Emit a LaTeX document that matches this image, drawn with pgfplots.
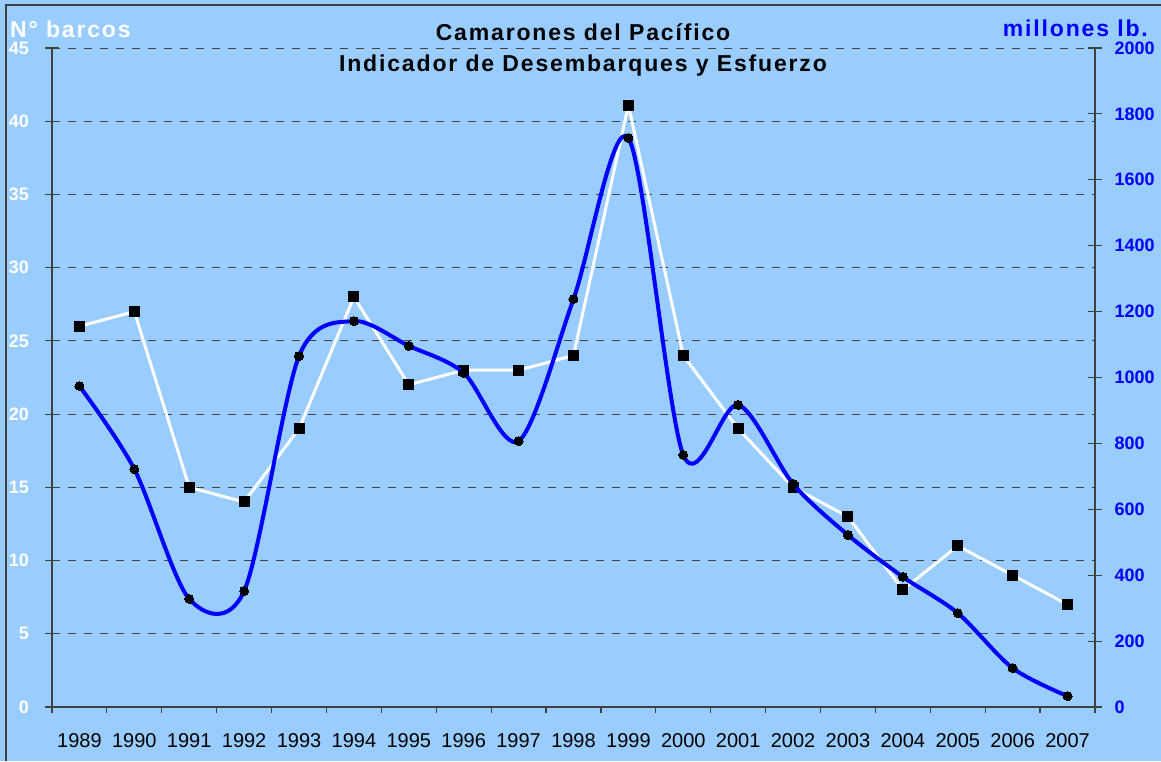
\documentclass[border=0pt]{standalone}
\usepackage{fontspec}
\setmainfont{Liberation Sans}
\newfontfamily\spfont[LetterSpace=8]{Liberation Sans}
\usepackage{pgfplots}
\pgfplotsset{compat=1.18}
\definecolor{bg}{HTML}{99CCFF}
\definecolor{axgray}{HTML}{404040}
\definecolor{pblue}{HTML}{0000FF}
\pgfplotsset{
  base/.style={at={(52pt,54pt)}, anchor=south west, scale only axis,
    width=1043pt, height=659pt, xmin=-0.5, xmax=18.5,
    axis line style={axgray, line width=1.2pt},
    tick style={axgray, line width=1.2pt},
    /pgf/number format/assume math mode=true,
    /pgf/number format/1000 sep={}},
}
\begin{document}
\begin{tikzpicture}
\fill[bg] (0pt,0pt) rectangle (1161pt,761pt);
\useasboundingbox (0pt,0pt) rectangle (1161pt,761pt);
\draw[axgray, line width=2pt] (6pt,0pt) -- (6pt,756pt) -- (1161pt,756pt);
% bottom category axis
\begin{axis}[base, ymin=0, ymax=45,
  axis y line=none, axis x line*=bottom,
  xtick={-0.5,0.5,...,18.5},
  xticklabels={1989,1990,1991,1992,1993,1994,1995,1996,1997,1998,1999,2000,2001,2002,2003,2004,2005,2006,2007,{}},
  xticklabel style={xshift=27.45pt, yshift=-17pt, font=\fontsize{20}{20}\selectfont, text=black},
  tick align=outside, major tick length=6pt,
]
\end{axis}
% left axis: N barcos
\begin{axis}[base, ymin=0, ymax=45,
  axis x line=none, axis y line*=left,
  ytick={0,5,...,45},
  yticklabel style={xshift=-13pt, font=\fontsize{18}{18}\selectfont\bfseries, text=white},
  tick align=center, major tick length=13pt,
  ymajorgrids, major grid style={axgray, line width=0.9pt, dash pattern=on 8pt off 8pt},
]
\addplot[white, line width=3pt, mark=square*, mark size=5pt,
  mark options={solid, fill=black, draw=black, line width=0pt}]
  coordinates {(0,26) (1,27) (2,15) (3,14) (4,19) (5,28) (6,22) (7,23) (8,23) (9,24)
  (10,41.1) (11,24) (12,19) (13,15) (14,13) (15,8) (16,11) (17,9) (18,7)};
\end{axis}
% right axis: millones lb.
\begin{axis}[base, ymin=0, ymax=2000,
  axis x line=none, axis y line*=right,
  ytick={0,200,...,2000},
  yticklabel style={xshift=9pt, font=\fontsize{18}{18}\selectfont\bfseries, text=pblue},
  tick align=center, major tick length=14pt,
]
\addplot[pblue, line width=4pt, smooth, mark=*, mark size=4.5pt,
  mark options={solid, fill=black, draw=black, line width=0pt}]
  coordinates {(0,974) (1,722) (2,328) (3,352) (4,1065) (5,1171) (6,1096) (7,1014) (8,807) (9,1238)
  (10,1727) (11,765) (12,917) (13,677) (14,522) (15,395) (16,285) (17,118) (18,33)};
\end{axis}
\node[anchor=center, font=\fontsize{23}{23}\selectfont\bfseries\spfont, text=black] at (583pt,729pt) {Camarones del Pacífico};
\node[anchor=center, font=\fontsize{23}{23}\selectfont\bfseries\spfont, text=black] at (583pt,695pt) {Indicador de Desembarques y Esfuerzo};
\node[anchor=west, inner sep=0pt, font=\fontsize{23}{23}\selectfont\bfseries\spfont, text=white] at (10pt,732pt) {N° barcos};
\node[anchor=east, inner sep=0pt, font=\fontsize{23}{23}\selectfont\bfseries\spfont, text=pblue] at (1148pt,733pt) {millones lb.};
\end{tikzpicture}
\end{document}
